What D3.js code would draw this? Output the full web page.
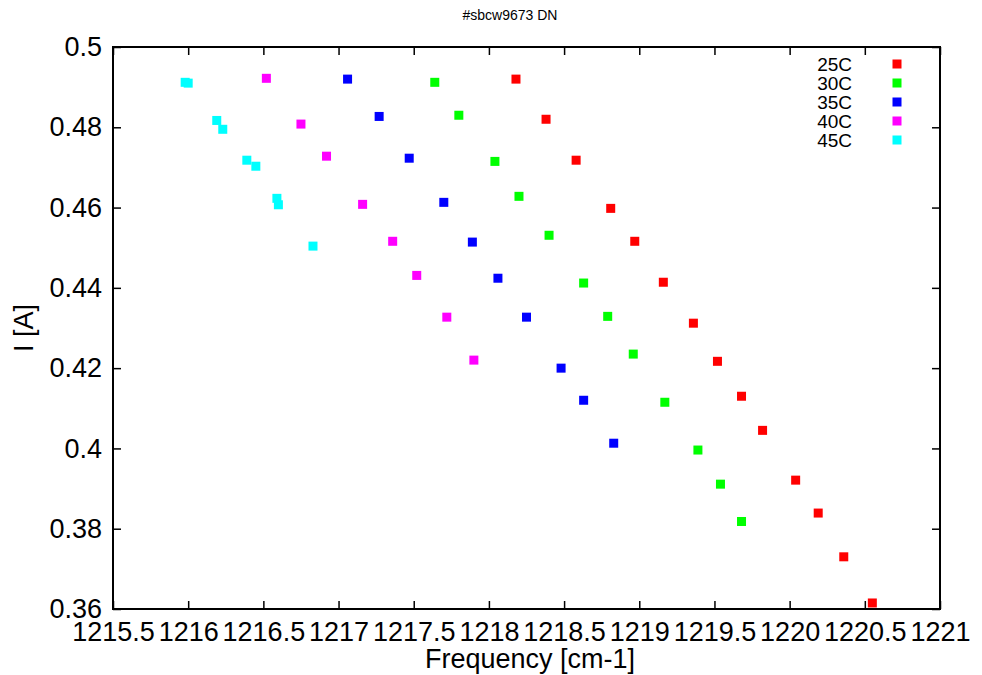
<!DOCTYPE html>
<html>
<head>
<meta charset="utf-8">
<script src="https://cdn.jsdelivr.net/npm/d3@7"></script>
<style>
  body { margin: 0; background: #fff; }
  text { font-family: "Liberation Sans", Arial, sans-serif; fill: #000; }
</style>
</head>
<body>
<script>
// data: frequency [cm-1] vs current [A]
const series = ["25C", "30C", "35C", "40C", "45C"];
const colors = ["#ff0000", "#00ff00", "#0000ff", "#ff00ff", "#00ffff"];

const freq25 = [1218.18, 1218.38, 1218.58, 1218.81, 1218.97, 1219.16, 1219.36, 1219.52, 1219.68, 1219.82, 1220.04, 1220.19, 1220.36, 1220.55];
const cur25  = [0.4920, 0.4820, 0.4718, 0.4598, 0.4516, 0.4414, 0.4312, 0.4217, 0.4130, 0.4045, 0.3921, 0.3839, 0.3730, 0.3615];

const freq30 = [1217.64, 1217.80, 1218.04, 1218.20, 1218.40, 1218.63, 1218.79, 1218.96, 1219.17, 1219.39, 1219.54, 1219.68];
const cur30  = [0.4912, 0.4830, 0.4715, 0.4628, 0.4531, 0.4412, 0.4329, 0.4235, 0.4115, 0.3996, 0.3911, 0.3818];

const freq35 = [1217.06, 1217.27, 1217.47, 1217.70, 1217.89, 1218.06, 1218.25, 1218.48, 1218.63, 1218.83];
const cur35  = [0.4920, 0.4827, 0.4723, 0.4613, 0.4514, 0.4424, 0.4327, 0.4200, 0.4120, 0.4013];

const freq40 = [1216.52, 1216.75, 1216.92, 1217.16, 1217.36, 1217.52, 1217.72, 1217.90];
const cur40  = [0.4922, 0.4808, 0.4728, 0.4608, 0.4516, 0.4431, 0.4327, 0.4220];

const freq45 = [1215.98, 1216.00, 1216.19, 1216.23, 1216.39, 1216.45, 1216.59, 1216.60, 1216.83];
const cur45  = [0.4912, 0.4910, 0.4817, 0.4795, 0.4718, 0.4703, 0.4623, 0.4607, 0.4504];

const xTicks = [1215.5, 1216, 1216.5, 1217, 1217.5, 1218, 1218.5, 1219, 1219.5, 1220, 1220.5, 1221];
const yTicks = [0.36, 0.38, 0.4, 0.42, 0.44, 0.46, 0.48, 0.5];

const freqs = [freq25, freq30, freq35, freq40, freq45];
const currents = [cur25, cur30, cur35, cur40, cur45];

const w = 982, h = 675;
const margin = ({top: 47, right: 42, bottom: 66, left: 113});

const svg = d3.select("body")
    .append("svg")
    .attr("width", w)
    .attr("height", h);

let x = d3.scaleLinear()
    .domain([1215.5, 1221])
    .range([margin.left, w - margin.right]);

let y = d3.scaleLinear()
    .domain([0.36, 0.5])
    .range([h - margin.bottom, margin.top]);

const tickLen = 8;

// inward ticks on all four sides, gnuplot style
let xAxis = d3.axisBottom(x).tickValues(xTicks).tickFormat(d => String(d))
    .tickSizeInner(-tickLen).tickSizeOuter(0).tickPadding(13);
let xAxisTop = d3.axisTop(x).tickValues(xTicks).tickFormat("")
    .tickSizeInner(-tickLen).tickSizeOuter(0);
let yAxis = d3.axisLeft(y).tickValues(yTicks).tickFormat(d => String(d))
    .tickSizeInner(-tickLen).tickSizeOuter(0).tickPadding(11);
let yAxisRight = d3.axisRight(y).tickValues(yTicks).tickFormat("")
    .tickSizeInner(-tickLen).tickSizeOuter(0);

function styleAxis(g) {
    g.select(".domain").remove();
    g.selectAll(".tick line").attr("stroke", "#000").attr("stroke-width", 1.5);
    g.selectAll(".tick text")
        .attr("fill", "#000")
        .style("font-size", "27px")
        .style("font-family", "'Liberation Sans', Arial, sans-serif");
}

svg.append("g")
    .attr("transform", `translate(0,${h - margin.bottom})`)
    .call(xAxis).call(styleAxis);
svg.append("g")
    .attr("transform", `translate(0,${margin.top})`)
    .call(xAxisTop).call(styleAxis);
svg.append("g")
    .attr("transform", `translate(${margin.left},0)`)
    .call(yAxis).call(styleAxis);
svg.append("g")
    .attr("transform", `translate(${w - margin.right},0)`)
    .call(yAxisRight).call(styleAxis);

// plot border
svg.append("rect")
    .attr("x", margin.left)
    .attr("y", margin.top)
    .attr("width", w - margin.left - margin.right)
    .attr("height", h - margin.top - margin.bottom)
    .attr("fill", "none")
    .attr("stroke", "#000")
    .attr("stroke-width", 2);

// points
const ms = 9;
series.forEach((s, i) => {
    const pts = freqs[i].map((f, j) => ({f: f, c: currents[i][j]}));
    svg.append("g")
        .selectAll("rect")
        .data(pts)
        .enter().append("rect")
        .attr("x", d => x(d.f) - ms / 2)
        .attr("y", d => y(d.c) - ms / 2)
        .attr("width", ms)
        .attr("height", ms)
        .attr("fill", colors[i]);
});

// legend
const legend = svg.append("g");
series.forEach((s, i) => {
    const ly = 64 + i * 19;
    legend.append("text")
        .attr("x", 852)
        .attr("y", ly)
        .attr("dy", "0.35em")
        .attr("text-anchor", "end")
        .style("font-size", "19px")
        .text(s);
    legend.append("rect")
        .attr("x", 897 - ms / 2)
        .attr("y", ly - ms / 2)
        .attr("width", ms)
        .attr("height", ms)
        .attr("fill", colors[i]);
});

// title and axis labels
svg.append("text")
    .attr("x", 510)
    .attr("y", 20)
    .attr("text-anchor", "middle")
    .style("font-size", "14px")
    .text("#sbcw9673 DN");

svg.append("text")
    .attr("x", 530)
    .attr("y", 668)
    .attr("text-anchor", "middle")
    .style("font-size", "27px")
    .text("Frequency [cm-1]");

svg.append("text")
    .attr("transform", `translate(33,${(margin.top + h - margin.bottom) / 2}) rotate(-90)`)
    .attr("text-anchor", "middle")
    .style("font-size", "27px")
    .text("I [A]");
</script>
</body>
</html>
